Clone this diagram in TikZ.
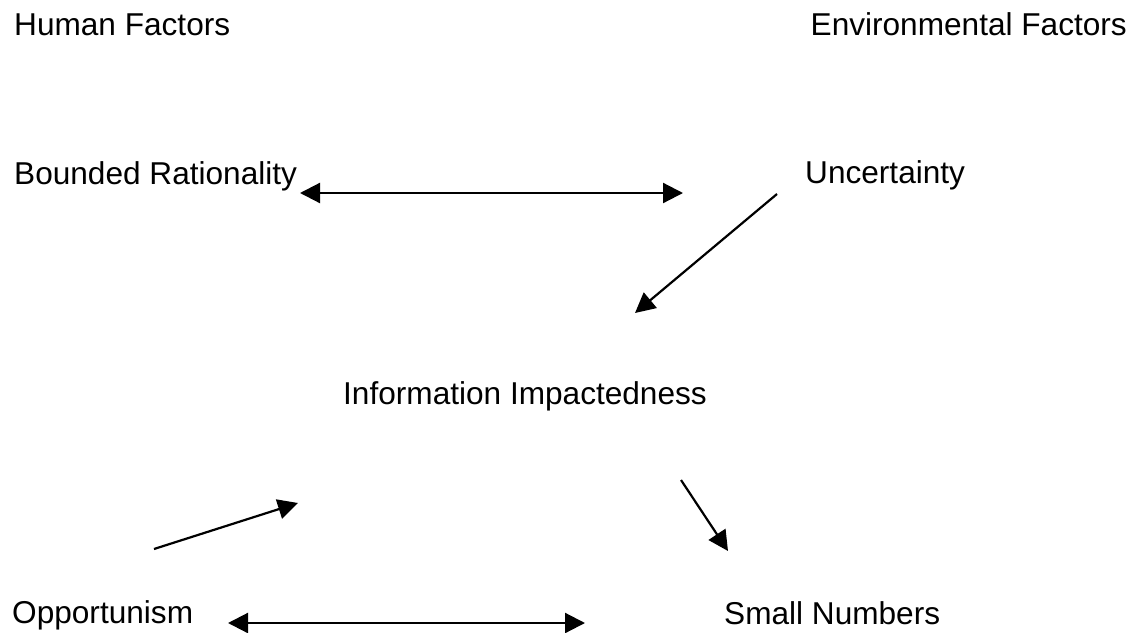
\documentclass[tikz,border=0pt]{standalone}
\usepackage{fontspec}
\setmainfont{Liberation Sans}
\usetikzlibrary{arrows.meta}
\begin{document}
\begin{tikzpicture}[x=1pt,y=-1pt,
  lbl/.style={anchor=base west,inner sep=0pt,font=\fontsize{31.6}{36}\selectfont},
  arr/.style={line width=2.2pt,-{Triangle[length=20pt,width=20pt]}},
  darr/.style={line width=2.2pt,{Triangle[length=20pt,width=20pt]}-{Triangle[length=20pt,width=20pt]}}]
\useasboundingbox[fill=white] (0,0) rectangle (1135,632);
\node[lbl] (hf) at (14,35) {Human Factors};
\node[lbl,anchor=base east] (ef) at (1127,35) {Environmental Factors};
\node[lbl] (br) at (14,184) {Bounded Rationality};
\node[lbl] (un) at (805,183) {Uncertainty};
\node[lbl] (ii) at (343,404) {Information Impactedness};
\node[lbl] (op) at (12,623) {Opportunism};
\node[lbl] (sn) at (724,624) {Small Numbers};
\coordinate (a1) at (300,193);
\coordinate (a2) at (683,193);
\coordinate (b1) at (777,194);
\coordinate (b2) at (635,313);
\coordinate (c1) at (154,549);
\coordinate (c2) at (298,503);
\coordinate (d1) at (681,480);
\coordinate (d2) at (728,551);
\coordinate (e1) at (228,623);
\coordinate (e2) at (585,623);
\draw[darr] (a1) -- (a2);
\draw[arr] (b1) -- (b2);
\draw[arr] (c1) -- (c2);
\draw[arr] (d1) -- (d2);
\draw[darr] (e1) -- (e2);
\end{tikzpicture}
\end{document}
